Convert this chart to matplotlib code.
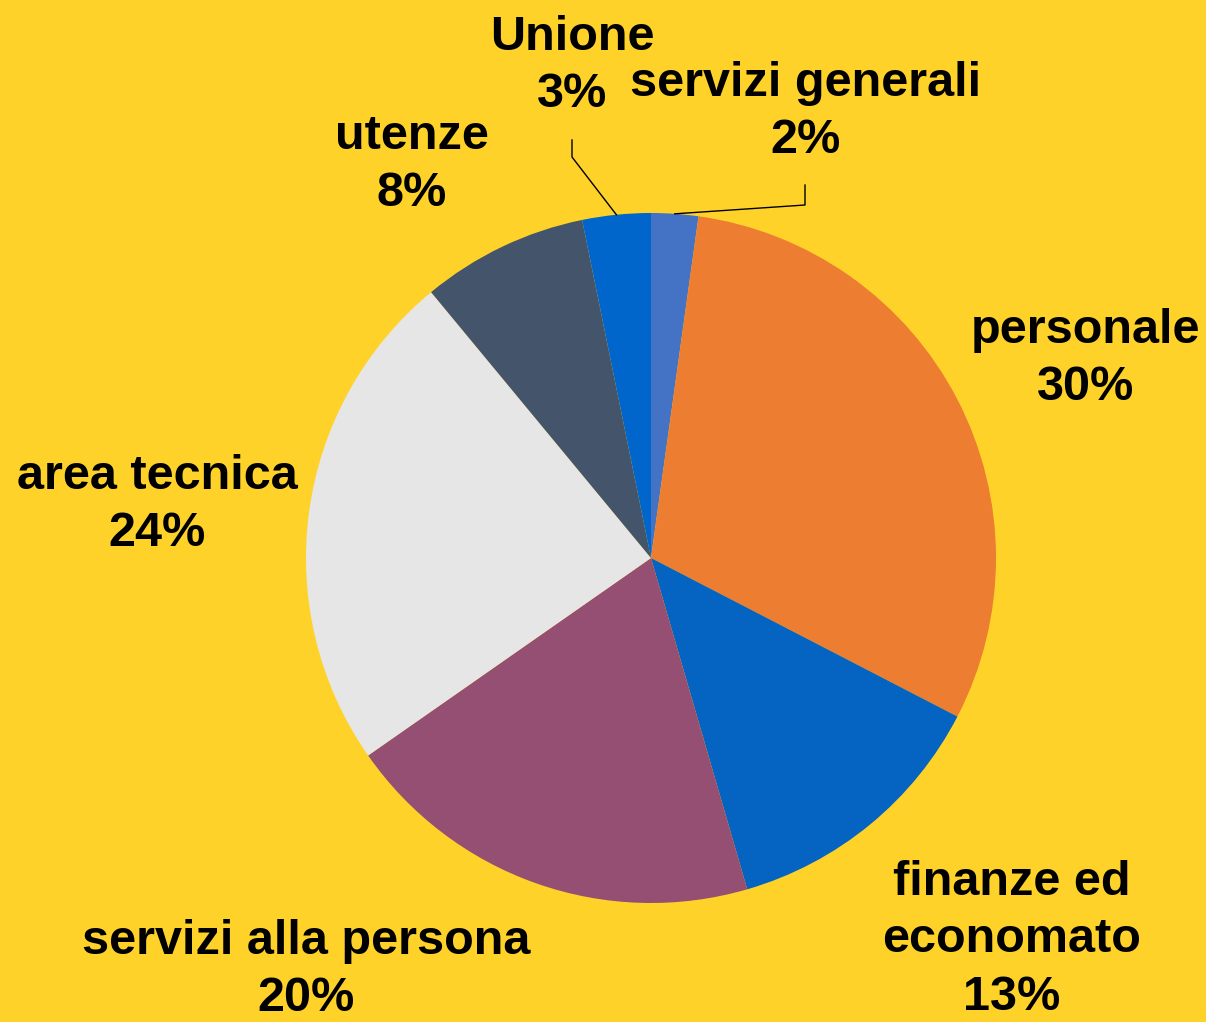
import matplotlib.pyplot as plt
import numpy as np

plt.rcParams['font.family'] = ['Liberation Sans', 'DejaVu Sans']

# dati (clockwise from top)
categorie = ['servizi generali', 'personale', 'finanze ed\neconomato',
             'servizi alla persona', 'area tecnica', 'utenze', 'Unione']
valori = [2.2, 30.4, 12.9, 19.8, 23.7, 7.8, 3.2]
colori = ['#4472C4', '#ED7D31', '#0563C1', '#954F72', '#E7E6E6', '#44546A', '#0066CC']

sfondo = '#FFD22A'
W, H = 1206, 1022

fig = plt.figure(figsize=(W / 100, H / 100), dpi=100, facecolor=sfondo)
ax = fig.add_axes([0, 0, 1, 1])
ax.set_xlim(0, W)
ax.set_ylim(0, H)
ax.set_aspect('equal')
ax.axis('off')

cx, cy, r = 651, H - 558, 345
wedges, _ = ax.pie(valori, colors=colori, startangle=90, counterclock=False,
                   center=(cx, cy), radius=r, frame=True,
                   wedgeprops={'linewidth': 0})
ax.set_xlim(0, W)
ax.set_ylim(0, H)
ax.axis('off')

# posizioni etichette (pixel, centro del testo)
pos_etichette = [(806, 112), (1086, 359), (1012, 940), (306, 970),
                 (157, 505), (412, 165), (572, 66)]
tot = sum(valori)
for w, lab, v, (px, py) in zip(wedges, categorie, valori, pos_etichette):
    testo = f"{lab}\n{round(v / tot * 100):.0f}%"
    ax.text(px, H - py, testo, ha='center', va='center', fontsize=35,
            fontweight='bold', linespacing=1.36, color='black')

# linee guida per le fette piccole
gomiti = {0: [(805, 185), (805, 205)], 6: [(572, 140), (572, 157)]}
for i, pts in gomiti.items():
    w = wedges[i]
    th = np.deg2rad((w.theta1 + w.theta2) / 2)
    ex, ey = cx + r * np.cos(th), cy + r * np.sin(th)
    xs = [p[0] for p in pts] + [ex]
    ys = [H - p[1] for p in pts] + [ey]
    ax.plot(xs, ys, color='black', linewidth=1)

fig.savefig('out.png', dpi=100, facecolor=sfondo)
